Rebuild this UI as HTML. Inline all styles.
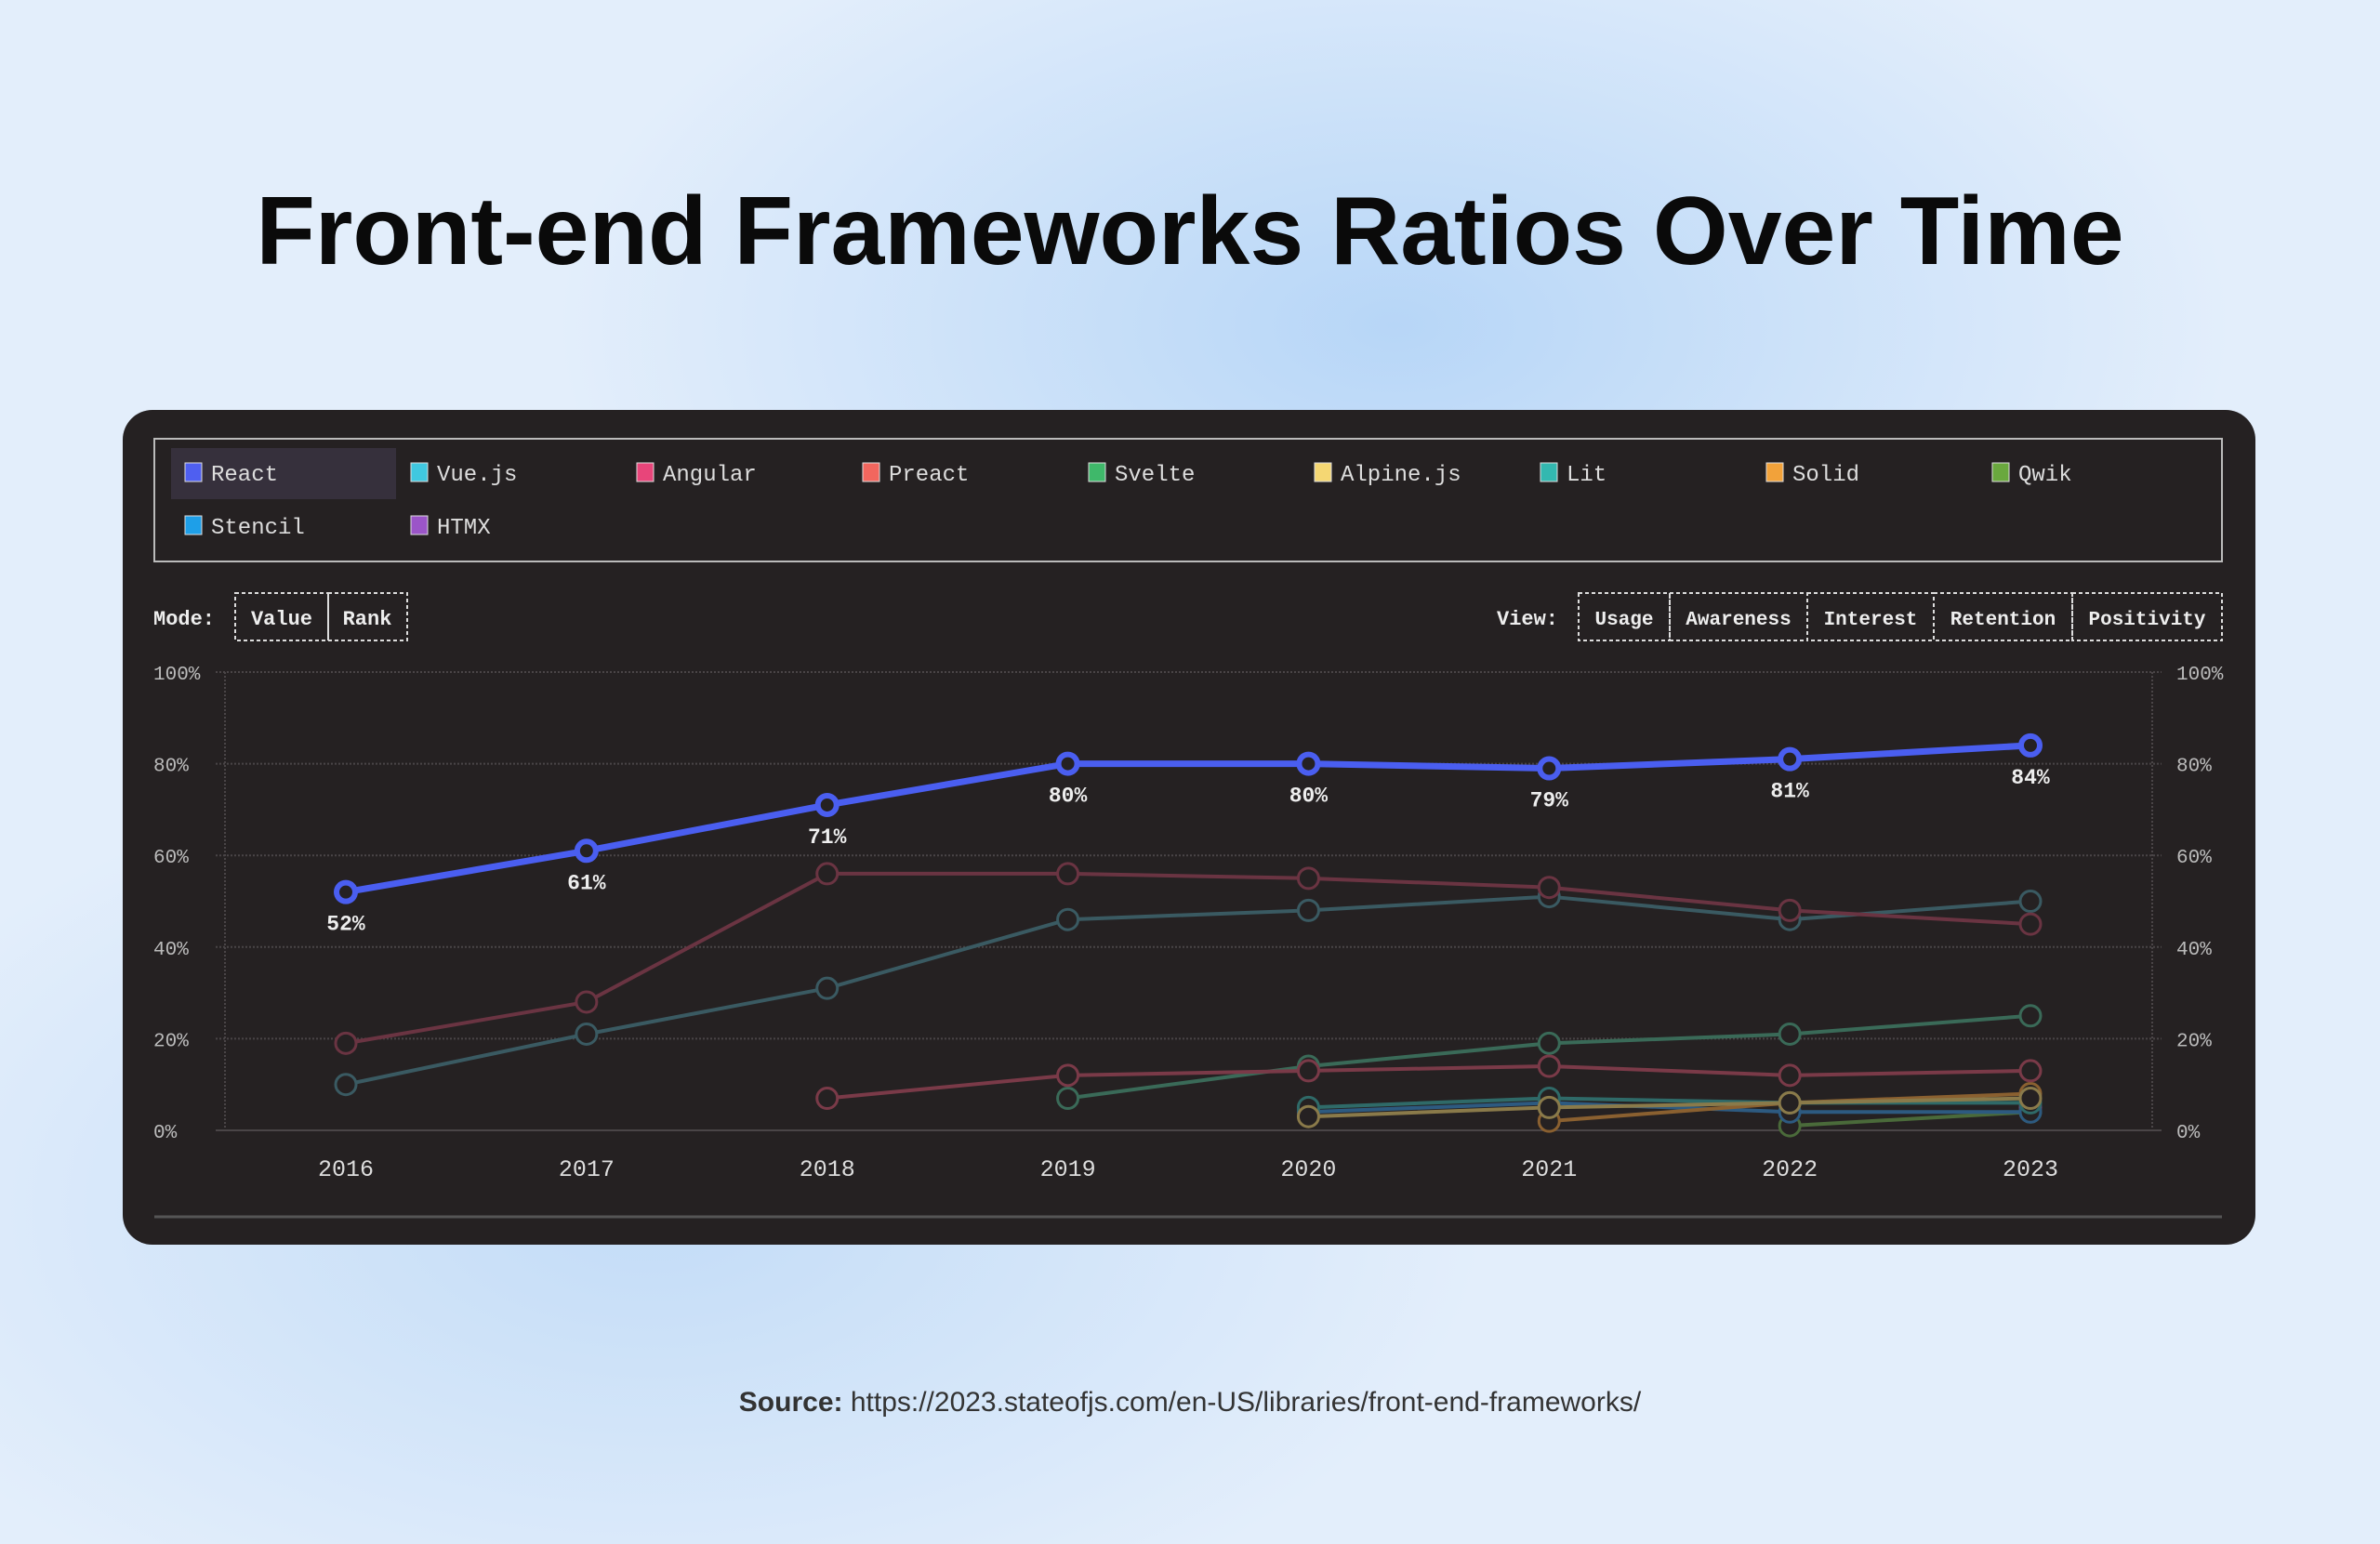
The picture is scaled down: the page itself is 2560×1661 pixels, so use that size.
<!DOCTYPE html>
<html><head><meta charset="utf-8">
<style>
html,body{margin:0;padding:0;width:2560px;height:1661px;overflow:hidden;}
body{background:radial-gradient(ellipse 900px 500px at 1500px 350px,#b7d6f7 0%,rgba(183,214,247,0) 100%),radial-gradient(ellipse 900px 500px at 700px 1300px,#c3dcf7 0%,rgba(195,220,247,0) 100%),#e3eefb;font-family:"Liberation Sans",sans-serif;}
svg{position:absolute;left:0;top:0;}
.mono{font-family:"Liberation Mono",monospace;}
</style></head>
<body>
<svg id="page" width="2560" height="1661" viewBox="0 0 2560 1661">
<text x="1280" y="284" text-anchor="middle" font-family="Liberation Sans" font-weight="bold" font-size="104" fill="#0a0a0a">Front-end Frameworks Ratios Over Time</text>
<rect x="132" y="441" width="2294" height="898" rx="32" fill="#252122"/>
<rect x="166" y="472" width="2224" height="132" fill="none" stroke="#bbb" stroke-width="2"/>
<rect x="184" y="482" width="242" height="55" fill="#36303c"/>
<g id="legend"></g>
<g class="mono" font-weight="bold" font-size="22" fill="#eee">
<text x="165" y="672">Mode:</text>
<rect x="253" y="638" width="100" height="51" fill="none" stroke="#ddd" stroke-dasharray="4 3" stroke-width="2"/>
<text x="303" y="672" text-anchor="middle">Value</text>
<rect x="353" y="638" width="85" height="51" fill="none" stroke="#ddd" stroke-dasharray="4 3" stroke-width="2"/>
<text x="395" y="672" text-anchor="middle">Rank</text>
<text x="1610" y="672">View:</text>
</g>
<g id="views" class="mono" font-weight="bold" font-size="21" fill="#eee"></g>
<g id="chart"></g>
<line x1="166" y1="1309" x2="2390" y2="1309" stroke="#555" stroke-width="3"/>
<text x="1280" y="1518" text-anchor="middle" font-size="30" fill="#333"><tspan font-weight="bold">Source:</tspan> https://2023.stateofjs.com/en-US/libraries/front-end-frameworks/</text>
</svg>
<script>
const NS="http://www.w3.org/2000/svg";
const years=[2016,2017,2018,2019,2020,2021,2022,2023];
const yTicks=[0,20,40,60,80,100];
const legendNames=["React","Vue.js","Angular","Preact","Svelte","Alpine.js","Lit","Solid","Qwik","Stencil","HTMX"];
const legendColors=["#4f5ff0","#40c8e0","#e8457a","#f2665e","#3fb86a","#f5d773","#33b8b0","#f2a23a","#6aa83e","#1e9fe8","#9b55c8"];
const react=[52,61,71,80,80,79,81,84];
const angular=[19,28,56,56,55,53,48,45];
const vue=[10,21,31,46,48,51,46,50];
const preact=[null,null,7,12,13,14,12,13];
const svelte=[null,null,null,7,14,19,21,25];
const alpine=[null,null,null,null,3,5,6,7];
const lit=[null,null,null,null,5,7,6,6];
const solid=[null,null,null,null,null,2,6,8];
const qwik=[null,null,null,null,null,null,1,4];
const stencil=[null,null,null,null,4,6,4,4];
const htmx=[null,null,null,null,null,null,null,5];
const viewNames=["Usage","Awareness","Interest","Retention","Positivity"];

function mk(tag,attrs,parent){const e=document.createElementNS(NS,tag);for(const k in attrs)e.setAttribute(k,attrs[k]);parent.appendChild(e);return e;}
const xS=i=>372+i*(2184-372)/(years.length-1);
const yS=v=>1216-v*(1216-723)/100;

// legend
const lg=document.getElementById('legend');
legendNames.forEach((n,i)=>{const r=Math.floor(i/9),c=i%9;const x=199+c*243,y=509+r*57;
 const s=mk('rect',{x:x,y:y-11,width:18,height:20,fill:legendColors[i],stroke:'#ddd','stroke-width':1},lg);
 
 
 const t=mk('text',{x:x+28,y:y+8,'font-family':'Liberation Mono, monospace','font-size':24,fill:'#ddd'},lg);t.textContent=n;
 
 
});
// views
const vg=document.getElementById('views');
const vEdges=[1698,1796,1944,2080,2229,2390];
viewNames.forEach((n,i)=>{const r=mk('rect',{x:vEdges[i],y:638,width:vEdges[i+1]-vEdges[i],height:51,fill:'none',stroke:'#ddd','stroke-dasharray':'4 3','stroke-width':2},vg);
 
 
 const t=mk('text',{x:(vEdges[i]+vEdges[i+1])/2,y:672,'text-anchor':'middle'},vg);t.textContent=n;
 
 
});
// chart
const g=document.getElementById('chart');
yTicks.forEach(v=>{const y=yS(v);
 const l=mk('line',{x1:232,x2:2325,y1:y,y2:y,stroke:'#4a4547','stroke-width':2,'stroke-dasharray':v===0?'':'2 2'},g);
 
 
 const a=mk('text',{x:165,y:y+8,'font-family':'Liberation Mono, monospace','font-size':21,fill:'#bbb'},g);a.textContent=v+'%';
 
 
 const b=mk('text',{x:2341,y:y+8,'font-family':'Liberation Mono, monospace','font-size':21,fill:'#bbb'},g);b.textContent=v+'%';
 
 
});
[242,2315].forEach((x,i)=>{const l=mk('line',{x1:x,x2:x,y1:723,y2:1216,stroke:'#4a4547','stroke-width':2,'stroke-dasharray':'2 2'},g);
 
 });
years.forEach((yr,i)=>{const t=mk('text',{x:xS(i),y:1265,'text-anchor':'middle','font-family':'Liberation Mono, monospace','font-size':25,fill:'#ddd'},g);t.textContent=yr;
 
 });
const series=[["qwik",qwik,"#4a6a3a"],["htmx",htmx,"#6a4a80"],["stencil",stencil,"#2d5a80"],["solid",solid,"#8a6030"],["lit",lit,"#2f6a68"],["alpine",alpine,"#8a7a4a"],["svelte",svelte,"#3a6a58"],["preact",preact,"#7a3a48"],["vue",vue,"#3a5a62"],["angular",angular,"#6a3442"],["react",react,"#4a5ef0"]];
series.forEach(([name,vals,col])=>{const main=name==='react';
 const pts=[];vals.forEach((v,i)=>{if(v!==null)pts.push([xS(i),yS(v),v]);});
 const p=mk('polyline',{points:pts.map(q=>q[0]+','+q[1]).join(' '),fill:'none',stroke:col,'stroke-width':main?7:4},g);
 
 
 pts.forEach((q,k)=>{const c=mk('circle',{cx:q[0],cy:q[1],r:main?10:11,fill:'#252122',stroke:col,'stroke-width':main?6:3},g);
  
  
  if(main){const t=mk('text',{x:q[0],y:q[1]+41,'text-anchor':'middle','font-family':'Liberation Mono, monospace','font-weight':'bold','font-size':23,fill:'#eee'},g);t.textContent=q[2]+'%';
   
   }
 });
});
</script>
</body></html>
